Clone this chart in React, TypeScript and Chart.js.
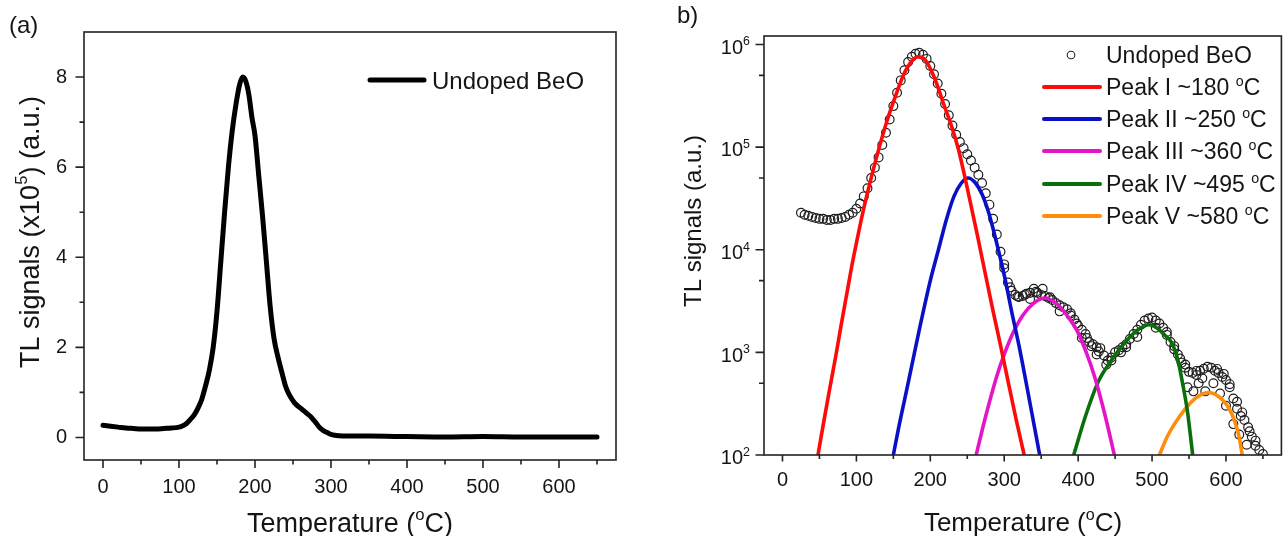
import React, { useEffect, useRef } from "react";
import { Chart, registerables } from "chart.js";

Chart.register(...registerables);

const FONT = "'Liberation Sans', Arial, Helvetica, sans-serif";
const INK = "#151515";

// ---------------- Panel (a): linear scale, signal in units of 1e5 ----------------
const tempA = [
  0, 10, 20, 30, 40, 50, 60, 70, 80, 90,
  100, 105, 110, 115, 120, 125, 130, 135, 140, 145,
  150, 155, 160, 165, 170, 175, 180, 184, 188, 192,
  196, 200, 205, 210, 215, 220, 225, 230, 236, 240,
  245, 252, 260, 267, 274, 280, 285, 290, 295, 300,
  305, 310, 320, 350, 400, 450, 500, 550, 600, 650,
];
const signalA = [
  0.27, 0.25, 0.23, 0.21, 0.2, 0.19, 0.19, 0.19, 0.2, 0.21,
  0.23, 0.26, 0.31, 0.4, 0.5, 0.65, 0.85, 1.15, 1.5, 2.0,
  2.8, 3.9, 5.0, 6.0, 6.8, 7.4, 7.85, 8.0, 7.9, 7.6,
  7.1, 6.7, 5.8, 4.9, 3.9, 2.9, 2.2, 1.8, 1.4, 1.15,
  0.95, 0.77, 0.65, 0.55, 0.45, 0.33, 0.22, 0.15, 0.11, 0.07,
  0.05, 0.04, 0.03, 0.03, 0.02, 0.01, 0.02, 0.01, 0.01, 0.01,
];
const xTicks = [0, 100, 200, 300, 400, 500, 600];
const xMinorTicks = [50, 150, 250, 350, 450, 550, 650];
const yTicksA = [0, 2, 4, 6, 8];
const yMinorTicksA = [1, 3, 5, 7];

// ---------------- Panel (b): log scale, measured points ----------------
const tempB = [
  25, 30, 35, 40, 45, 50, 55, 60, 65, 70,
  75, 80, 85, 90, 95, 100, 105, 110, 115, 120,
  125, 130, 135, 140, 145, 150, 155, 160, 165, 170,
  175, 180, 185, 190, 195, 200, 205, 210, 215, 220,
  225, 230, 235, 240, 245, 250, 255, 260, 265, 270,
  275, 280, 285, 290, 295, 300, 305, 310, 315, 320,
  325, 330, 335, 340, 345, 350, 355, 360, 365, 370,
  375, 380, 385, 390, 395, 400, 405, 410, 415, 420,
  425, 430, 435, 440, 445, 450, 455, 460, 465, 470,
  475, 480, 485, 490, 495, 500, 505, 510, 515, 520,
  525, 530, 535, 540, 545, 550, 555, 560, 565, 570,
  575, 580, 585, 590, 595, 600, 605, 610, 615, 620,
  625, 630, 635, 640, 645, 650,
];
const signalB = [
  22900, 21900, 21400, 20900, 20400, 20000, 20000, 19500, 19500, 20000,
  20000, 20400, 20900, 21900, 22900, 25100, 28200, 33100, 39800, 50100,
  63100, 79400, 105000, 138000, 186000, 251000, 339000, 447000, 562000, 676000,
  759000, 813000, 832000, 794000, 724000, 617000, 513000, 417000, 331000, 263000,
  204000, 162000, 132000, 112000, 97700, 85100, 74100, 63100, 53700, 44700,
  35500, 27500, 20000, 14100, 9550, 6610, 4790, 3980, 3630, 3470,
  3550, 3720, 3800, 4170, 3800, 3630, 3550, 3390, 3240, 3020,
  2880, 2750, 2630, 2400, 2090, 1820, 1660, 1510, 1260, 1200,
  1120, 1100, 933, 832, 891, 1000, 1050, 1120, 1200, 1350,
  1510, 1660, 1860, 2040, 2140, 2190, 2040, 1910, 1740, 1480,
  1260, 1070, 955, 794, 708, 646, 631, 603, 661, 692,
  724, 708, 661, 631, 575, 537, 457, 355, 282, 240,
  219, 186, 151, 123, 112, 102,
];
// scattered (noisy) readings in the tail
const tempBScatter = [
  548, 556, 563, 572, 583, 592, 600, 610, 618, 628,
  335, 352, 375, 405, 425, 438, 480, 505,
  300, 308, 318, 328, 343, 362, 390, 398, 412, 418,
  428, 445, 458, 465, 520, 530, 538, 545, 560, 568,
  588, 597, 605, 615, 622, 632, 640,
];
const signalBScatter = [
  457, 417, 501, 417, 501, 398, 302, 200, 158, 126,
  3310, 4170, 2510, 1380, 955, 759, 1410, 1740,
  7200, 4300, 3500, 3650, 3900, 3450, 2290, 1910, 1380, 1150,
  1020, 832, 1000, 1120, 1580, 1150, 870, 760, 660, 560,
  690, 617, 490, 330, 260, 170, 138,
];

// fitted glow peaks
const peak1Temp = [48, 56, 64, 72, 79, 87, 94, 101, 108, 120, 131, 142, 153, 163, 173, 183, 193, 203, 211, 218, 228, 238, 247, 256, 264, 276, 285, 295, 306, 316, 327];
const peak1Val = [100, 214, 447, 912, 1780, 3720, 7080, 12600, 21900, 50100, 100000, 186000, 316000, 490000, 661000, 759000, 708000, 525000, 372000, 263000, 166000, 95500, 50100, 25100, 13500, 5130, 2510, 1170, 490, 224, 100];
const peak2Temp = [150, 157, 170, 186, 200, 211, 222, 232, 242, 251, 260, 270, 279, 292, 301, 310, 321, 335, 348];
const peak2Val = [100, 182, 501, 1780, 5010, 10000, 19950, 33100, 44700, 50100, 45700, 34700, 22900, 10000, 5250, 2510, 1070, 316, 100];
const peak3Temp = [262, 275, 290, 300, 312, 325, 340, 355, 370, 385, 400, 412, 422, 436, 449];
const peak3Val = [100, 240, 589, 955, 1550, 2290, 3020, 3390, 3020, 2290, 1550, 955, 589, 251, 100];
const peak4Temp = [394, 410, 427, 441, 456, 470, 483, 496, 508, 518, 526, 532, 537, 541, 548, 555];
const peak4Val = [100, 240, 513, 759, 1070, 1410, 1700, 1860, 1700, 1450, 1260, 1000, 724, 513, 263, 100];
const peak5Temp = [510, 520, 532, 545, 560, 577, 590, 600, 608, 614, 618, 622];
const peak5Val = [100, 148, 209, 282, 363, 407, 372, 316, 251, 191, 148, 100];

const yTicksB = [1e2, 1e3, 1e4, 1e5, 1e6];
const yTickLabelsB = ["10^2^", "10^3^", "10^4^", "10^5^", "10^6^"];
const yMinorTicksB = [500, 5000, 50000, 500000];

const peakNames = ["Peak I ~180 ^o^C", "Peak II ~250 ^o^C", "Peak III ~360 ^o^C", "Peak IV ~495 ^o^C", "Peak V ~580 ^o^C"];
const peakColors = ["#ff0a0a", "#0a10c8", "#e614c8", "#0a6e0a", "#ff8c0a"];

// ---------------- text helper (segments between ^ are superscript) ----------------
function drawRich(ctx: CanvasRenderingContext2D, text: string, x: number, y: number, size: number, align: "left" | "center" | "right") {
  const parts = text.split("^");
  const segs = parts.map((t, i) => {
    const sup = i % 2 === 1;
    const fs = sup ? size * 0.62 : size;
    ctx.font = `${fs}px ${FONT}`;
    return { t, sup, fs, w: ctx.measureText(t).width };
  });
  const total = segs.reduce((a, s) => a + s.w, 0);
  let cx = align === "center" ? x - total / 2 : align === "right" ? x - total : x;
  const base = y + size * 0.358;
  ctx.textAlign = "left";
  ctx.textBaseline = "alphabetic";
  ctx.fillStyle = INK;
  for (const s of segs) {
    ctx.font = `${s.fs}px ${FONT}`;
    ctx.fillText(s.t, cx, s.sup ? base - size * 0.42 : base);
    cx += s.w;
  }
}

function drawRotated(ctx: CanvasRenderingContext2D, text: string, x: number, y: number, size: number) {
  ctx.save();
  ctx.translate(x, y);
  ctx.rotate(-Math.PI / 2);
  drawRich(ctx, text, 0, 0, size, "center");
  ctx.restore();
}

type TickSpec = { xMajor: number[]; xMinor: number[]; yMajor: number[]; yMinor: number[]; xMaj: number; xMin: number; yMaj: number; yMin: number };

function frameAndTicks(chart: any, spec: TickSpec) {
  const { ctx, chartArea: ca, scales } = chart;
  ctx.save();
  ctx.strokeStyle = "#222";
  ctx.lineWidth = 1.6;
  ctx.strokeRect(ca.left, ca.top, ca.right - ca.left, ca.bottom - ca.top);
  ctx.beginPath();
  const tx = (v: number, len: number) => {
    const p = scales.x.getPixelForValue(v);
    ctx.moveTo(p, ca.bottom);
    ctx.lineTo(p, ca.bottom + len);
  };
  const ty = (v: number, len: number) => {
    const p = scales.y.getPixelForValue(v);
    ctx.moveTo(ca.left, p);
    ctx.lineTo(ca.left - len, p);
  };
  spec.xMajor.forEach((v) => tx(v, spec.xMaj));
  spec.xMinor.forEach((v) => tx(v, spec.xMin));
  spec.yMajor.forEach((v) => ty(v, spec.yMaj));
  spec.yMinor.forEach((v) => ty(v, spec.yMin));
  ctx.stroke();
  ctx.restore();
}

const tickFont = { family: FONT, size: 20 };

export default function App() {
  const refA = useRef<HTMLCanvasElement | null>(null);
  const refB = useRef<HTMLCanvasElement | null>(null);

  useEffect(() => {
    const decorA = {
      id: "decorA",
      afterDraw(chart: any) {
        const ctx = chart.ctx as CanvasRenderingContext2D;
        frameAndTicks(chart, { xMajor: xTicks, xMinor: xMinorTicks, yMajor: yTicksA, yMinor: yMinorTicksA, xMaj: 8, xMin: 4.5, yMaj: 8.5, yMin: 4.5 });
        ctx.save();
        drawRich(ctx, "(a)", 9, 24, 24, "left");
        drawRich(ctx, "Temperature (^o^C)", 350, 522, 27, "center");
        drawRotated(ctx, "TL signals (x10^5^) (a.u.)", 29, 232, 27);
        ctx.strokeStyle = "#000";
        ctx.lineWidth = 5;
        ctx.lineCap = "round";
        ctx.beginPath();
        ctx.moveTo(370, 80);
        ctx.lineTo(424, 80);
        ctx.stroke();
        drawRich(ctx, "Undoped BeO", 432, 80, 24, "left");
        ctx.restore();
      },
    };

    const decorB = {
      id: "decorB",
      afterDraw(chart: any) {
        const ctx = chart.ctx as CanvasRenderingContext2D;
        const ys = chart.scales.y;
        frameAndTicks(chart, { xMajor: xTicks, xMinor: xMinorTicks, yMajor: yTicksB, yMinor: yMinorTicksB, xMaj: 6.5, xMin: 4, yMaj: 8.5, yMin: 5 });
        ctx.save();
        yTicksB.forEach((v, i) => {
          drawRich(ctx, yTickLabelsB[i], chart.chartArea.left - 14, ys.getPixelForValue(v) + 2, 20, "right");
        });
        drawRich(ctx, "b)", 34, 14, 24, "left");
        drawRich(ctx, "Temperature (^o^C)", 380, 522, 26, "center");
        drawRotated(ctx, "TL signals (a.u.)", 49, 221, 24);
        const rows = [55, 87, 119, 151, 184, 216];
        ctx.strokeStyle = "#222";
        ctx.lineWidth = 1.1;
        ctx.beginPath();
        ctx.arc(428, rows[0], 3.8, 0, Math.PI * 2);
        ctx.stroke();
        drawRich(ctx, "Undoped BeO", 463, rows[0], 23, "left");
        peakNames.forEach((name, i) => {
          ctx.strokeStyle = peakColors[i];
          ctx.lineWidth = 4;
          ctx.lineCap = "round";
          ctx.beginPath();
          ctx.moveTo(401, rows[i + 1]);
          ctx.lineTo(457, rows[i + 1]);
          ctx.stroke();
          drawRich(ctx, name, 463, rows[i + 1], 23, "left");
        });
        ctx.restore();
      },
    };

    const chartA = new Chart(refA.current as HTMLCanvasElement, {
      type: "line",
      data: {
        datasets: [
          {
            label: "Undoped BeO",
            data: tempA.map((t, i) => ({ x: t, y: signalA[i] })),
            borderColor: "#000",
            borderWidth: 5,
            pointRadius: 0,
            cubicInterpolationMode: "monotone",
            borderCapStyle: "round",
            borderJoinStyle: "round",
            fill: false,
          } as any,
        ],
      },
      options: {
        responsive: false,
        animation: false,
        events: [],
        layout: { padding: { top: 32, right: 27, left: 0, bottom: 0 } },
        plugins: { legend: { display: false }, tooltip: { enabled: false } },
        scales: {
          x: {
            type: "linear",
            min: -25,
            max: 675,
            afterBuildTicks: (s: any) => {
              s.ticks = xTicks.map((v) => ({ value: v }));
            },
            afterFit: (s: any) => {
              s.height = 76;
            },
            grid: { display: false, drawTicks: false },
            border: { display: false },
            ticks: { font: tickFont, color: INK, padding: 15, maxRotation: 0, autoSkip: false, callback: (v: any) => String(v) },
          },
          y: {
            type: "linear",
            min: -0.5,
            max: 9,
            afterBuildTicks: (s: any) => {
              s.ticks = yTicksA.map((v) => ({ value: v }));
            },
            afterFit: (s: any) => {
              s.width = 84;
            },
            grid: { display: false, drawTicks: false },
            border: { display: false },
            ticks: { font: tickFont, color: INK, padding: 17, autoSkip: false, callback: (v: any) => String(v) },
          },
        },
      },
      plugins: [decorA],
    } as any);

    const curve = (temps: number[], vals: number[], color: string, label: string) => ({
      label,
      data: temps.map((t, i) => ({ x: t, y: vals[i] })),
      borderColor: color,
      borderWidth: 3.6,
      pointRadius: 0,
      cubicInterpolationMode: "monotone",
      fill: false,
      order: 1,
    });

    const circles = (temps: number[], vals: number[], label: string) => ({
      label,
      data: temps.map((t, i) => ({ x: t, y: vals[i] })),
      showLine: false,
      pointRadius: 4.4,
      pointBorderWidth: 1.2,
      pointBorderColor: "#1e1e1e",
      pointBackgroundColor: "rgba(255,255,255,0)",
      order: 5,
    });

    const chartB = new Chart(refB.current as HTMLCanvasElement, {
      type: "line",
      data: {
        datasets: [
          curve(peak1Temp, peak1Val, peakColors[0], peakNames[0]),
          curve(peak2Temp, peak2Val, peakColors[1], peakNames[1]),
          curve(peak3Temp, peak3Val, peakColors[2], peakNames[2]),
          curve(peak4Temp, peak4Val, peakColors[3], peakNames[3]),
          curve(peak5Temp, peak5Val, peakColors[4], peakNames[4]),
          circles(tempB, signalB, "Undoped BeO"),
          circles(tempBScatter, signalBScatter, "Undoped BeO (scatter)"),
        ] as any,
      },
      options: {
        responsive: false,
        animation: false,
        events: [],
        layout: { padding: { top: 36, right: 4, left: 0, bottom: 0 } },
        plugins: { legend: { display: false }, tooltip: { enabled: false } },
        scales: {
          x: {
            type: "linear",
            min: -25,
            max: 675,
            afterBuildTicks: (s: any) => {
              s.ticks = xTicks.map((v) => ({ value: v }));
            },
            afterFit: (s: any) => {
              s.height = 81;
            },
            grid: { display: false, drawTicks: false },
            border: { display: false },
            ticks: { font: tickFont, color: INK, padding: 13, maxRotation: 0, autoSkip: false, callback: (v: any) => String(v) },
          },
          y: {
            type: "logarithmic",
            min: 100,
            max: 1.21e6,
            afterBuildTicks: (s: any) => {
              s.ticks = yTicksB.map((v) => ({ value: v }));
            },
            afterFit: (s: any) => {
              s.width = 121;
            },
            grid: { display: false, drawTicks: false },
            border: { display: false },
            ticks: { display: false },
          },
        },
      },
      plugins: [decorB],
    } as any);

    return () => {
      chartA.destroy();
      chartB.destroy();
    };
  }, []);

  return (
    <div style={{ position: "fixed", left: 0, top: 0, width: 1287, height: 536, background: "#fff" }}>
      <canvas ref={refA} width={643} height={536} style={{ position: "absolute", left: 0, top: 0, width: 643, height: 536 }} />
      <canvas ref={refB} width={644} height={536} style={{ position: "absolute", left: 643, top: 0, width: 644, height: 536 }} />
    </div>
  );
}
